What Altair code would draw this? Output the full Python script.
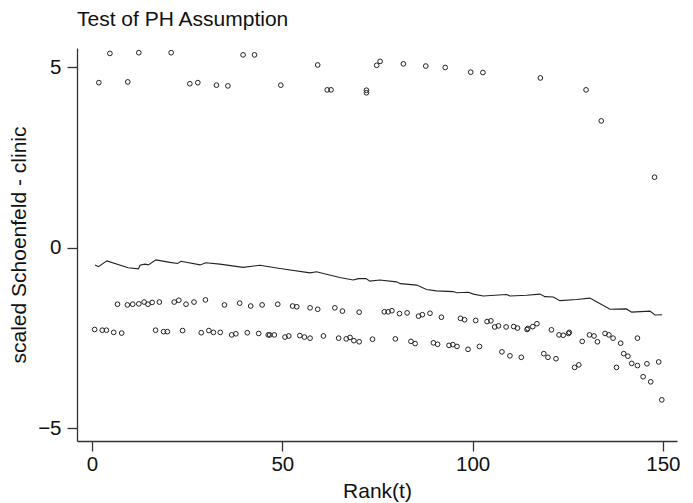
import altair as alt
import pandas as pd

# Scaled Schoenfeld residual points (rank, residual)
top_x = [1.8, 4.7, 9.4, 12.3, 20.8, 25.7, 27.8, 32.7, 35.7, 39.7, 42.7, 49.6, 59.3, 61.8, 62.8,
         72.1, 72.1, 74.8, 75.7, 81.8, 87.7, 92.8, 99.5, 102.7, 117.8, 129.8, 133.8, 147.8]
top_y = [4.57, 5.38, 4.59, 5.40, 5.40, 4.54, 4.57, 4.50, 4.48, 5.34, 5.34, 4.50, 5.06, 4.37, 4.37,
         4.36, 4.29, 5.05, 5.16, 5.09, 5.03, 4.99, 4.86, 4.85, 4.70, 4.37, 3.51, 1.95]

mid_x = [6.7, 9.3, 10.7, 12.3, 13.7, 14.7, 15.8, 17.7, 21.6, 22.8, 24.7, 26.8, 29.8, 34.8, 38.8,
         41.7, 44.7, 48.8, 52.7, 53.8, 57.3, 59.3, 63.8, 65.8, 70.2, 76.8, 77.8, 78.8, 80.8, 82.8,
         85.8, 86.8, 88.8, 91.8, 96.8, 97.9, 100.8, 103.8, 104.8, 105.8, 106.8, 108.8, 110.8, 111.8,
         114.3, 114.5, 115.8, 116.9, 120.7, 122.7, 123.8, 125.2, 125.4, 128.8, 130.7, 131.9, 132.8,
         134.8, 135.8, 136.9, 138.9, 143.3]
mid_y = [-1.57, -1.59, -1.57, -1.56, -1.51, -1.57, -1.52, -1.51, -1.51, -1.46, -1.57, -1.51, -1.45,
         -1.59, -1.54, -1.62, -1.59, -1.57, -1.62, -1.64, -1.67, -1.71, -1.67, -1.76, -1.79, -1.78,
         -1.78, -1.75, -1.83, -1.81, -1.90, -1.86, -1.82, -1.93, -1.96, -2.00, -2.02, -2.05, -2.03,
         -2.20, -2.17, -2.20, -2.19, -2.23, -2.27, -2.24, -2.19, -2.11, -2.28, -2.42, -2.43, -2.38,
         -2.35, -2.60, -2.42, -2.45, -2.61, -2.38, -2.42, -2.51, -2.65, -2.51]

low_x = [0.7, 2.7, 3.8, 5.7, 7.8, 16.7, 18.8, 19.8, 23.8, 28.7, 30.7, 31.9, 33.7, 36.7, 37.8, 40.8,
         43.8, 46.3, 46.7, 47.9, 50.7, 51.7, 54.6, 55.8, 57.3, 60.8, 64.8, 66.8, 67.8, 68.8, 70.2,
         73.7, 79.7, 83.8, 84.9, 89.7, 90.8, 93.8, 94.8, 95.9, 98.8, 101.8, 107.7, 109.8, 112.8,
         118.7, 119.8, 121.9, 126.8, 127.9, 137.8, 139.7, 140.8, 141.8, 143.3, 144.8, 145.8, 146.8,
         148.9, 149.7]
low_y = [-2.27, -2.29, -2.29, -2.35, -2.37, -2.29, -2.33, -2.33, -2.30, -2.36, -2.30, -2.35, -2.35,
         -2.42, -2.39, -2.36, -2.38, -2.42, -2.42, -2.42, -2.48, -2.45, -2.44, -2.48, -2.51, -2.45,
         -2.51, -2.53, -2.49, -2.58, -2.61, -2.54, -2.53, -2.60, -2.66, -2.64, -2.68, -2.71, -2.69,
         -2.74, -2.82, -2.74, -2.89, -3.00, -3.04, -2.94, -3.04, -3.08, -3.32, -3.25, -3.32, -2.94,
         -3.01, -3.21, -3.27, -3.58, -3.22, -3.72, -3.17, -4.22]

# Smoothed curve
line_x = [0.8, 1.7, 3.9, 9.5, 12.2, 12.6, 13.9, 14.8, 16.8, 20.5, 22.5, 23.4, 28.4, 29.9, 33.6,
          39.7, 44.1, 49.4, 57.3, 59.0, 61.6, 65.1, 68.6, 70.0, 72.0, 73.0, 75.6, 80.0, 81.0, 85.3,
          87.9, 90.5, 94.9, 95.8, 98.9, 100.2, 102.8, 108.9, 109.8, 114.2, 117.7, 119.0, 121.2,
          122.9, 127.3, 130.8, 133.4, 136.1, 140.4, 141.8, 146.6, 147.9, 149.8]
line_y = [-0.48, -0.53, -0.37, -0.56, -0.59, -0.49, -0.46, -0.48, -0.34, -0.41, -0.44, -0.38, -0.48,
          -0.42, -0.46, -0.55, -0.49, -0.58, -0.70, -0.67, -0.74, -0.83, -0.90, -0.86, -0.86, -0.93,
          -0.90, -0.95, -1.00, -1.04, -1.16, -1.20, -1.22, -1.25, -1.24, -1.29, -1.34, -1.30, -1.34,
          -1.32, -1.29, -1.36, -1.37, -1.47, -1.44, -1.40, -1.55, -1.71, -1.70, -1.79, -1.76, -1.87,
          -1.86]

pts = pd.DataFrame({"x": top_x + mid_x + low_x, "y": top_y + mid_y + low_y})
ln = pd.DataFrame({"x": line_x, "y": line_y})

FONT = "Liberation Sans"
xs = alt.Scale(domain=[-3.94, 153.7], nice=False, zero=False)
ys = alt.Scale(domain=[-5.36, 5.53], nice=False, zero=False)

xax = alt.Axis(values=[0, 50, 100, 150], title="Rank(t)", grid=False, tickSize=10,
               labelPadding=3, titlePadding=6, labelFontSize=20.5, titleFontSize=21,
               domainColor="#333", tickColor="#333", domainWidth=1.3, tickWidth=1.3,
               labelColor="#111", titleColor="#111", labelFont=FONT, titleFont=FONT,
               titleFontWeight="normal", labelFlush=False)
yax = alt.Axis(values=[-5, 0, 5], title="scaled Schoenfeld - clinic", grid=False, tickSize=10,
               labelPadding=6, titleX=-51.5, titleBaseline="alphabetic", labelFontSize=20.5,
               titleFontSize=21, domainColor="#333", tickColor="#333", domainWidth=1.3,
               tickWidth=1.3, labelColor="#111", titleColor="#111", labelFont=FONT,
               titleFont=FONT, titleFontWeight="normal", labelFlush=False)

points = alt.Chart(pts).mark_point(shape="circle", filled=False, size=22, strokeWidth=1.0,
                                   color="#222", opacity=1).encode(
    x=alt.X("x:Q", scale=xs, axis=xax),
    y=alt.Y("y:Q", scale=ys, axis=yax),
)
curve = alt.Chart(ln).mark_line(color="#222", strokeWidth=1.1).encode(
    x=alt.X("x:Q", scale=xs),
    y=alt.Y("y:Q", scale=ys),
)

chart = alt.layer(points, curve).properties(
    width=600, height=393,
    title=alt.TitleParams("Test of PH Assumption", anchor="start", frame="group",
                          baseline="alphabetic", offset=1, font=FONT, fontSize=21,
                          fontWeight="normal", color="#111"),
    autosize=alt.AutoSizeParams(type="none"),
    padding={"left": 77, "top": 48, "right": 16, "bottom": 62},
).configure_view(stroke=None)

chart.save("out.html", embed_options={"renderer": "svg", "actions": False})
